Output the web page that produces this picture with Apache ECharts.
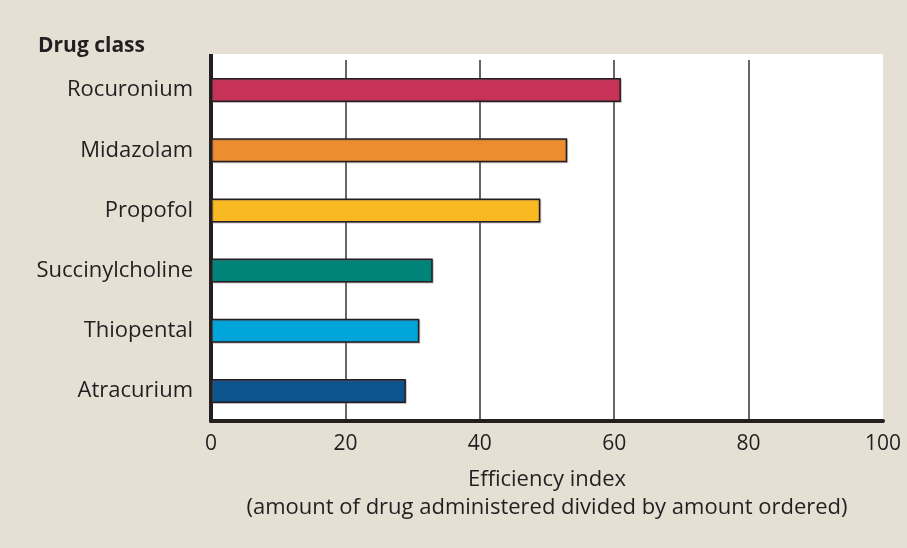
<!DOCTYPE html>
<html>
<head>
<meta charset="utf-8">
<script src="https://cdn.jsdelivr.net/npm/echarts@6/dist/echarts.min.js"></script>
<style>
  html, body { margin: 0; padding: 0; background: #e5dfd4; }
  #chart { width: 907px; height: 548px; }
</style>
</head>
<body>
<div id="chart"></div>
<script>
// drug classes, top to bottom
const drugs = ['Rocuronium', 'Midazolam', 'Propofol', 'Succinylcholine', 'Thiopental', 'Atracurium']
const efficiency = [61, 53, 49, 33, 31, 29]
const barColors = ['#c73257', '#ec8d30', '#f8b922', '#00847a', '#00a6da', '#0d538c']
const xTicks = [0, 20, 40, 60, 80, 100]

const font = '"Open Sans", "Noto Sans", sans-serif'
const ink = '#231f20'

let chart = echarts.init(document.getElementById('chart'))

chart.setOption({
  backgroundColor: '#e5dfd4',
  animation: false,
  grid: {
    left: 211, right: 24, top: 60, bottom: 127,
    show: true, backgroundColor: '#ffffff', borderWidth: 0
  },
  graphic: [
    // white strip above first band + axis line extension
    { type: 'rect', left: 211, top: 54, shape: { width: 672, height: 7 }, style: { fill: '#ffffff' }, z: -1 },
    { type: 'rect', left: 209, top: 54, shape: { width: 4, height: 8 }, style: { fill: ink } },
    { type: 'text', left: 38, top: 36, style: { text: 'Drug class', font: 'bold 21px ' + font, fill: ink } }
  ],
  xAxis: {
    type: 'value',
    min: xTicks[0],
    max: xTicks[xTicks.length - 1],
    interval: 20,
    axisLine: { show: true, lineStyle: { color: ink, width: 4 } },
    axisTick: { show: false },
    axisLabel: { color: ink, fontSize: 21, fontFamily: font, margin: 13 },
    // no line at the right edge (100)
    splitLine: { show: true, lineStyle: { color: ['#333333', '#333333', '#333333', '#333333', '#333333', 'rgba(0,0,0,0)'], width: 1.5 } },
    name: 'Efficiency index\n(amount of drug administered divided by amount ordered)',
    nameLocation: 'middle',
    nameGap: 45,
    nameTextStyle: { color: ink, fontSize: 22, fontFamily: font, lineHeight: 28, verticalAlign: 'top' }
  },
  yAxis: {
    type: 'category',
    data: drugs,
    inverse: true,
    axisLine: { show: true, lineStyle: { color: ink, width: 4 } },
    axisTick: { show: false },
    axisLabel: { color: ink, fontSize: 22, fontFamily: font, margin: 18 }
  },
  series: [{
    type: 'bar',
    barWidth: 24,
    data: efficiency.map((v, i) => ({
      value: v,
      itemStyle: { color: barColors[i] }
    })),
    itemStyle: {
      borderColor: ink,
      borderWidth: 1.5,
      shadowColor: 'rgba(120,90,100,0.35)',
      shadowOffsetX: 1,
      shadowOffsetY: 1
    }
  }]
})
</script>
</body>
</html>
